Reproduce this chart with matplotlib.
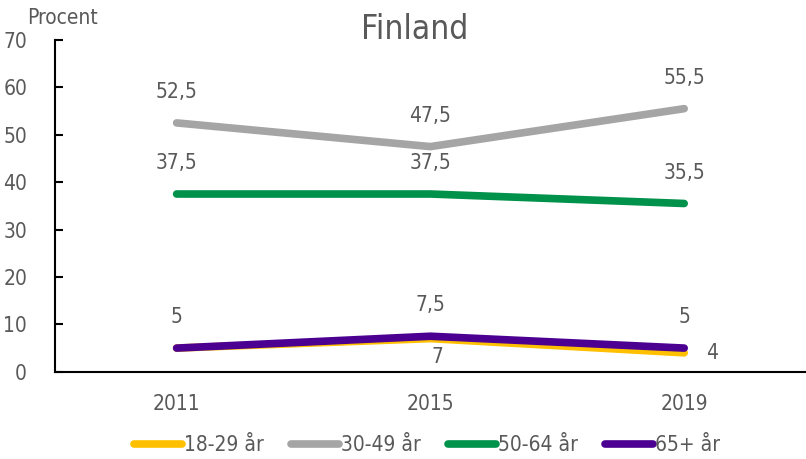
import matplotlib
matplotlib.use("Agg")
import matplotlib.pyplot as plt

years = ["2011", "2015", "2019"]
series_names = ["18-29 år", "30-49 år", "50-64 år", "65+ år"]
age_18_29 = [5, 7, 4]
age_30_49 = [52.5, 47.5, 55.5]
age_50_64 = [37.5, 37.5, 35.5]
age_65 = [5, 7.5, 5]
colors = ["#FFC000", "#A5A5A5", "#00914A", "#4B0091"]

plt.rcParams["font.family"] = ["DejaVu Sans"]
plt.rcParams["font.stretch"] = "condensed"
txt = "#595959"

fig = plt.figure(figsize=(8.06, 4.59), dpi=100)
ax = fig.add_axes([0.068, 0.19, 0.932, 0.723])

x = list(range(len(years)))
all_series = [age_18_29, age_30_49, age_50_64, age_65]
for vals, name, c in zip(all_series, series_names, colors):
    ax.plot(x, vals, color=c, lw=5.5, solid_capstyle="round", label=name)


def fmt(v):
    return f"{v:g}".replace(".", ",")


# labels above for gray, green, purple
for vals in [age_30_49, age_50_64, age_65]:
    for xi, v in zip(x, vals):
        ax.annotate(fmt(v), (xi, v), xytext=(0, 15), textcoords="offset points",
                    ha="center", va="bottom", fontsize=15, color=txt)

# yellow labels: below at 2015, right at 2019
ax.annotate(fmt(age_18_29[1]), (1, age_18_29[1]), xytext=(5, -6), textcoords="offset points",
            ha="center", va="top", fontsize=15, color=txt)
ax.annotate(fmt(age_18_29[2]), (2, age_18_29[2]), xytext=(16, 0), textcoords="offset points",
            ha="left", va="center", fontsize=15, color=txt)

ax.set_xlim(-0.48, 2.48)
ax.set_ylim(0, 70)
ax.set_yticks(range(0, 71, 10))
ax.set_xticks(x)
ax.set_xticklabels(years)
ax.tick_params(axis="y", direction="in", length=6, width=1.5, colors="black",
               labelcolor=txt, labelsize=15, pad=20)
ax.tick_params(axis="x", length=0, labelcolor=txt, labelsize=15, pad=16)
for s in ["top", "right"]:
    ax.spines[s].set_visible(False)
ax.spines["left"].set_linewidth(1.5)
ax.spines["bottom"].set_linewidth(1.5)

fig.text(0.077, 0.96, "Procent", ha="center", va="center", fontsize=15, color=txt)
fig.text(0.515, 0.935, "Finland", ha="center", va="center", fontsize=24, color=txt)

fig.legend(loc="center", bbox_to_anchor=(0.53, 0.03), ncol=4, frameon=False,
           fontsize=15, labelcolor=txt, handlelength=2.3, handletextpad=0.1,
           columnspacing=1.3)

fig.savefig("out.png", dpi=100)
